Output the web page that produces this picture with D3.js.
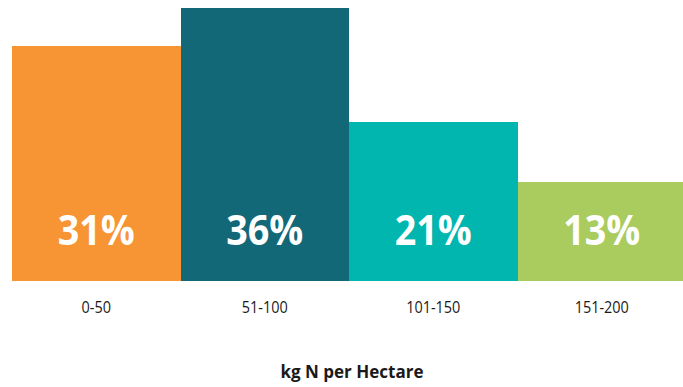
<!DOCTYPE html>
<html>
<head>
<meta charset="utf-8">
<script src="https://cdn.jsdelivr.net/npm/d3@7"></script>
<style>
  html, body { margin: 0; padding: 0; background: #fff; }
  svg { display: block; }
</style>
</head>
<body>
<svg id="chart" width="683" height="387"></svg>
<script>
// Share of area by nitrogen application rate
const categories = ["0-50", "51-100", "101-150", "151-200"];
const shares = [31, 36, 21, 13];
const colors = ["#F79433", "#136878", "#00B6AE", "#AACC5F"];
const axisTitle = "kg N per Hectare";

const svg = d3.select("#chart");

const x = d3.scaleBand()
  .domain(categories)
  .range([12, 686])
  .padding(0);

const y = d3.scaleLinear()
  .domain([0, 36])
  .range([281, 8]);

const data = categories.map((c, i) => ({ cat: c, value: shares[i], color: colors[i] }));

// Bars
svg.append("g")
  .selectAll("rect")
  .data(data)
  .join("rect")
  .attr("x", d => x(d.cat))
  .attr("y", d => y(d.value))
  .attr("width", x.bandwidth())
  .attr("height", d => y(0) - y(d.value))
  .attr("fill", d => d.color)
  .attr("shape-rendering", "crispEdges");

// Value labels inside bars, slightly condensed
svg.append("g")
  .selectAll("text")
  .data(data)
  .join("text")
  .attr("transform", d => `translate(${x(d.cat) + x.bandwidth() / 2},245) scale(0.92,1)`)
  .attr("text-anchor", "middle")
  .attr("fill", "#ffffff")
  .attr("font-family", "'Open Sans', sans-serif")
  .attr("font-weight", 700)
  .attr("font-size", 41)
  .text(d => d.value + "%");

// Category axis (no domain line or ticks)
const xAxis = svg.append("g")
  .attr("transform", `translate(0,${y(0)})`)
  .call(d3.axisBottom(x).tickSize(0).tickPadding(20));
xAxis.select(".domain").remove();
xAxis.selectAll(".tick text")
  .attr("fill", "#1a1a1a")
  .attr("font-family", "'Open Sans', sans-serif")
  .attr("font-size", 17)
  .attr("transform", "scale(0.85,1)");

// Axis title
svg.append("text")
  .attr("x", 352)
  .attr("y", 378)
  .attr("text-anchor", "middle")
  .attr("fill", "#1a1a1a")
  .attr("font-family", "'Open Sans', sans-serif")
  .attr("font-weight", 700)
  .attr("font-size", 17)
  .text(axisTitle);
</script>
</body>
</html>
